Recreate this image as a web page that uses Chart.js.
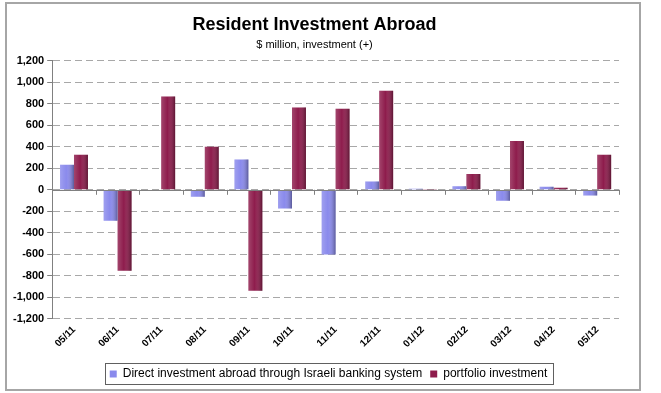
<!DOCTYPE html>
<html>
<head>
<meta charset="utf-8">
<script src="https://cdn.jsdelivr.net/npm/chart.js@4/dist/chart.umd.min.js"></script>
<style>
  body { margin: 0; background: #fff; }
  #wrap { position: relative; width: 661px; height: 393px; }
  #frame { position: absolute; left: 5px; top: 2px; width: 636px; height: 389px; border: 2px solid #a6a6a6; box-sizing: border-box; }
  #plot { position: absolute; left: 0; top: 0; }
</style>
</head>
<body>
<div id="wrap">
  <div id="frame"></div>
  <canvas id="plot" width="661" height="393"></canvas>
</div>
<script>
const plot = document.querySelector("#plot");
const ctx = plot.getContext("2d");

const months = ["05/11", "06/11", "07/11", "08/11", "09/11", "10/11", "11/11",
  "12/11", "01/12", "02/12", "03/12", "04/12", "05/12"];

const direct = [232, -288, -10, -65, 282, -174, -602, 77, 9, 34, -102, 28, -53];
const portfolio = [325, -753, 868, 400, -940, 766, 753, 921, 8, 146, 453, 19, 325];

const Y_TICKS = [-1200, -1000, -800, -600, -400, -200, 0, 200, 400, 600, 800, 1000, 1200];

// shading over each bar, a bit like the excel cylinder look
const shadeBars = {
  id: "shadeBars",
  afterDatasetsDraw(chart) {
    const c = chart.ctx;
    chart.data.datasets.forEach((ds, i) => {
      const meta = chart.getDatasetMeta(i);
      meta.data.forEach(bar => {
        const { x, y, base, width } = bar.getProps(["x", "y", "base", "width"], true);
        const left = x - width / 2;
        const g = c.createLinearGradient(left, 0, left + width, 0);
        g.addColorStop(0, "rgba(255,255,255,0.18)");
        g.addColorStop(0.45, "rgba(255,255,255,0)");
        g.addColorStop(1, "rgba(0,0,0,0.35)");
        c.save();
        c.fillStyle = g;
        c.fillRect(left, Math.min(y, base), width, Math.abs(base - y));
        c.restore();
      });
    });
  }
};

// zero line with the little category ticks, and a box round the legend
const extras = {
  id: "extras",
  beforeDraw(chart) {
    // legend sits a little right of centre and lower in the original
    const lg = chart.legend;
    const dx = 14, dy = 13;
    lg.left += dx;
    lg.right += dx;
    lg.top += dy;
    lg.bottom += dy;
    lg.legendHitBoxes.forEach(b => { b.left += dx; b.top += dy; });
  },
  afterDatasetsDraw(chart) {
    const c = chart.ctx;
    const area = chart.chartArea;
    const xs = chart.scales.x;
    const y0 = chart.scales.y.getPixelForValue(0);
    c.save();
    c.strokeStyle = "#808080";
    c.lineWidth = 1;
    c.beginPath();
    c.moveTo(area.left, Math.round(y0) + 0.5);
    c.lineTo(area.right, Math.round(y0) + 0.5);
    const half = (xs.getPixelForValue(1) - xs.getPixelForValue(0)) / 2;
    for (let i = 0; i <= months.length; i++) {
      const px = Math.round(xs.getPixelForValue(i) - half) + 0.5;
      c.moveTo(px, y0);
      c.lineTo(px, y0 + 5);
    }
    c.stroke();
    c.restore();
  },
  afterDraw(chart) {
    const boxes = chart.legend.legendHitBoxes;
    const l = Math.min(...boxes.map(b => b.left)) - 5;
    const r = Math.max(...boxes.map(b => b.left + b.width)) + 5;
    const t = Math.min(...boxes.map(b => b.top)) - 5;
    const btm = Math.max(...boxes.map(b => b.top + b.height)) + 4;
    const c = chart.ctx;
    c.save();
    c.strokeStyle = "#606060";
    c.lineWidth = 1;
    c.strokeRect(Math.round(l) + 0.5, Math.round(t) + 0.5, Math.round(r - l), Math.round(btm - t));
    c.restore();
  }
};

const chart = new Chart(ctx, {
  type: "bar",
  data: {
    labels: months,
    datasets: [
      {
        label: "Direct investment abroad through Israeli banking system",
        data: direct,
        backgroundColor: "#8a8aec",
        borderWidth: 0,
        categoryPercentage: 0.64,
        barPercentage: 1
      },
      {
        label: "portfolio investment",
        data: portfolio,
        backgroundColor: "#8e1c4c",
        borderWidth: 0,
        categoryPercentage: 0.64,
        barPercentage: 1
      }
    ]
  },
  options: {
    responsive: false,
    animation: false,
    layout: { padding: { left: 10, right: 42, top: 6, bottom: 16 } },
    plugins: {
      title: {
        display: true,
        text: "Resident Investment Abroad",
        color: "#000",
        font: { family: "Liberation Sans", size: 18, weight: "bold" },
        padding: { top: 8, bottom: 3 }
      },
      subtitle: {
        display: true,
        text: "$ million, investment (+)",
        color: "#000",
        font: { family: "Liberation Sans", size: 11 },
        padding: { bottom: 9 }
      },
      legend: {
        position: "bottom",
        labels: {
          color: "#000",
          font: { family: "Liberation Sans", size: 12 },
          boxWidth: 7,
          boxHeight: 7,
          padding: 8
        }
      },
      tooltip: { enabled: false }
    },
    scales: {
      x: {
        grid: { display: false },
        border: { display: false },
        ticks: {
          color: "#000",
          font: { family: "Liberation Sans", size: 10, weight: "bold" },
          minRotation: 45,
          maxRotation: 45,
          padding: -3
        }
      },
      y: {
        min: -1200,
        max: 1200,
        afterBuildTicks: axis => { axis.ticks = Y_TICKS.map(v => ({ value: v })); },
        grid: {
          color: "#a8a8a8",
          lineWidth: 1,
          tickColor: "#808080",
          tickLength: 5
        },
        border: { display: true, color: "#808080", dash: [7, 4] },
        ticks: {
          color: "#000",
          font: { family: "Liberation Sans", size: 11, weight: "bold" },
          padding: 3,
          callback: v => v.toLocaleString("en-US")
        }
      }
    }
  },
  plugins: [shadeBars, extras]
});
</script>
</body>
</html>
